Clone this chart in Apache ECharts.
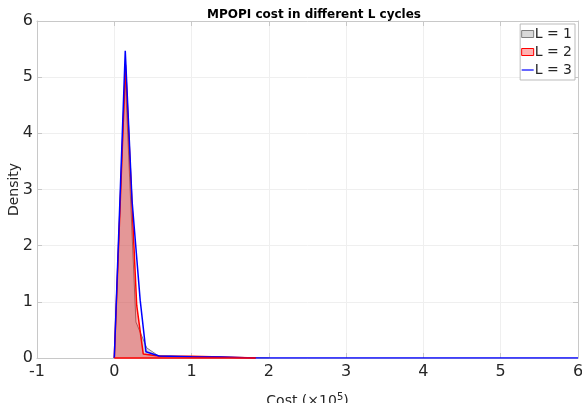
<!DOCTYPE html>
<html>
<head>
<meta charset="utf-8">
<script src="https://cdn.jsdelivr.net/npm/echarts@6/dist/echarts.min.js"></script>
<style>html,body{margin:0;padding:0;background:#fff}#c{width:582px;height:403px}</style>
</head>
<body>
<div id="c"></div>
<script>
const titleText = 'MPOPI cost in different L cycles';
const seriesNames = ['L = 1', 'L = 2', 'L = 3'];
const xTicks = [-1, 0, 1, 2, 3, 4, 5, 6];
const yTicks = [0, 1, 2, 3, 4, 5, 6];

const grayX = [0, 0.14, 0.28, 0.42, 0.57, 1.0, 1.5, 2.0];
const grayY = [0, 5.05, 0.64, 0.18, 0.04, 0.02, 0.01, 0];
const redX = [0, 0.145, 0.29, 0.375, 0.6, 1.0, 1.4, 1.83];
const redY = [0, 5.22, 0.94, 0.07, 0.03, 0.03, 0.02, 0];
const blueX = [0, 0.142, 0.23, 0.335, 0.41, 0.58, 1.0, 1.36, 1.8, 6];
const blueY = [0, 5.47, 2.8, 1.03, 0.11, 0.035, 0.024, 0.02, 0, 0];

const zip = (xs, ys) => xs.map((x, i) => [x, ys[i]]);
const font = 'DejaVu Sans';
const frame = '#c8c8c8';
const tickColor = '#262626';

const chart = echarts.init(document.getElementById('c'), null, {renderer: 'canvas'});
chart.setOption({
  animation: false,
  backgroundColor: '#fff',
  title: {
    text: titleText, left: 309, top: 4, textAlign: 'center',
    textStyle: {fontFamily: font, fontSize: 12, fontWeight: 'bold', color: '#000'}
  },
  grid: {left: 37, right: 4, top: 21, bottom: 45, containLabel: false, outerBoundsMode: 'none'},
  legend: {
    orient: 'vertical', right: 7, top: 24,
    backgroundColor: '#fff', borderColor: '#bbb', borderWidth: 1,
    padding: [1, 3, 1, 1], itemGap: 0, itemWidth: 12, itemHeight: 7,
    textStyle: {fontFamily: font, fontSize: 14, color: '#262626', lineHeight: 18, padding: [0, 0, 0, -4]},
    data: [
      {name: seriesNames[0], icon: 'rect', itemStyle: {color: 'rgba(128,128,128,0.3)', borderColor: '#808080', borderWidth: 1}},
      {name: seriesNames[1], icon: 'rect', itemStyle: {color: 'rgba(255,0,0,0.3)', borderColor: '#ff0000', borderWidth: 1}},
      {name: seriesNames[2], icon: 'path://M0,0h12v1.2h-12z', itemStyle: {color: '#0000ff', borderWidth: 0}}
    ]
  },
  xAxis: [{
    type: 'value', min: xTicks[0], max: xTicks[xTicks.length - 1], interval: 1,
    name: '{b|Cost (×10}{s|5}{b|)}', nameLocation: 'middle', nameGap: 34, nameMoveOverlap: false,
    nameTextStyle: {rich: {b: {fontFamily: font, fontSize: 14, color: '#262626'}, s: {fontFamily: font, fontSize: 10, color: '#262626', verticalAlign: 'top', padding: [0, 0, 8, 0]}}},
    axisLine: {show: true, onZero: false, lineStyle: {color: frame, width: 1}},
    axisTick: {show: true, inside: true, length: 5, lineStyle: {color: frame}},
    axisLabel: {fontFamily: font, fontSize: 16, color: tickColor, margin: 6},
    splitLine: {show: true, lineStyle: {color: '#efefef', width: 1}}
  }, {
    type: 'value', position: 'top', min: xTicks[0], max: xTicks[xTicks.length - 1], interval: 1,
    axisLine: {show: true, onZero: false, lineStyle: {color: frame, width: 1}},
    axisTick: {show: true, inside: true, length: 5, lineStyle: {color: frame}},
    axisLabel: {show: false}, splitLine: {show: false}
  }],
  yAxis: [{
    type: 'value', min: yTicks[0], max: yTicks[yTicks.length - 1], interval: 1,
    name: 'Density', nameLocation: 'middle', nameGap: 16, nameMoveOverlap: false,
    nameTextStyle: {fontFamily: font, fontSize: 14, color: '#262626'},
    axisLine: {show: true, onZero: false, lineStyle: {color: frame, width: 1}},
    axisTick: {show: true, inside: true, length: 5, lineStyle: {color: frame}},
    axisLabel: {fontFamily: font, fontSize: 16, color: tickColor, margin: 4},
    splitLine: {show: true, lineStyle: {color: '#efefef', width: 1}}
  }, {
    type: 'value', position: 'right', min: yTicks[0], max: yTicks[yTicks.length - 1], interval: 1,
    axisLine: {show: true, onZero: false, lineStyle: {color: frame, width: 1}},
    axisTick: {show: true, inside: true, length: 5, lineStyle: {color: frame}},
    axisLabel: {show: false}, splitLine: {show: false}
  }],
  series: [
    {
      name: seriesNames[0], type: 'line', data: zip(grayX, grayY), symbol: 'none',
      lineStyle: {color: '#808080', width: 1}, itemStyle: {color: '#808080'},
      areaStyle: {color: 'rgba(128,128,128,0.3)', opacity: 1, origin: 'start'}, z: 2
    },
    {
      name: seriesNames[1], type: 'line', data: zip(redX, redY), symbol: 'none',
      lineStyle: {color: '#ff0000', width: 1.5}, itemStyle: {color: '#ff0000'},
      areaStyle: {color: 'rgba(255,0,0,0.3)', opacity: 1, origin: 'start'}, z: 3,
      markLine: {silent: true, symbol: 'none', label: {show: false}, lineStyle: {color: '#ff0000', width: 1.5, type: 'solid'},
        data: [[{coord: [redX[0], 0]}, {coord: [redX[redX.length - 1], 0]}]]}
    },
    {
      name: seriesNames[2], type: 'line', data: zip(blueX, blueY), symbol: 'none',
      lineStyle: {color: '#0000ff', width: 1.5}, itemStyle: {color: '#0000ff'}, z: 4
    }
  ]
});
</script>
</body>
</html>
